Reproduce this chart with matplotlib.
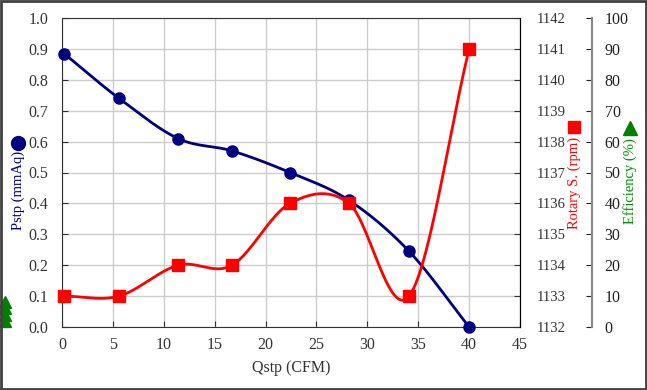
import numpy as np
import matplotlib.pyplot as plt
from matplotlib.lines import Line2D
from matplotlib.patches import Rectangle

plt.rcParams['font.family'] = ['Liberation Serif', 'DejaVu Serif']

# datos
qstp = [0.2, 5.6, 11.4, 16.7, 22.4, 28.2, 34.1, 40.0]
pstp = [0.885, 0.74, 0.61, 0.57, 0.50, 0.41, 0.245, 0.0]
rpm = [1133, 1133, 1134, 1134, 1136, 1136, 1133, 1141]
# puntos de eficiencia que quedan fuera del area (borde izquierdo)
eff_x = [-5.6, -5.6, -5.6, -5.6]
eff = [2, 4, 6, 8]


# suavizado tipo Excel (Catmull-Rom)
def suavizar(x, y, n=30):
    x = np.asarray(x, float)
    y = np.asarray(y, float)
    px = np.concatenate([[2 * x[0] - x[1]], x, [2 * x[-1] - x[-2]]])
    py = np.concatenate([[2 * y[0] - y[1]], y, [2 * y[-1] - y[-2]]])
    xs, ys = [], []
    t = np.linspace(0, 1, n)
    for i in range(1, len(px) - 2):
        p0, p1, p2, p3 = (np.array([px[j], py[j]]) for j in range(i - 1, i + 3))
        m1 = (p2 - p0) / 2
        m2 = (p3 - p1) / 2
        h00 = 2 * t**3 - 3 * t**2 + 1
        h10 = t**3 - 2 * t**2 + t
        h01 = -2 * t**3 + 3 * t**2
        h11 = t**3 - t**2
        seg = (np.outer(h00, p1) + np.outer(h10, m1) + np.outer(h01, p2) + np.outer(h11, m2))
        xs.extend(seg[:, 0])
        ys.extend(seg[:, 1])
    return np.array(xs), np.array(ys)


fig = plt.figure(figsize=(6.47, 3.90), dpi=100)
ax = fig.add_axes([62 / 647, 1 - 327 / 390, 458 / 647, 309 / 390])

ax.set_xlim(0, 45)
ax.set_ylim(0, 1.0)
ax.set_xticks(np.arange(0, 46, 5))
ax.set_yticks(np.arange(0, 1.01, 0.1))
ax.set_yticklabels([f'{v:.1f}' for v in np.arange(0, 1.01, 0.1)])
ax.grid(True, color='#cccccc', linewidth=1)
ax.set_axisbelow(True)
ax.tick_params(direction='in', labelsize=11.5, length=4, colors='#333333')
ax.tick_params(axis='y', pad=10)
ax.tick_params(axis='x', pad=7)
for s in ax.spines.values():
    s.set_color('#333333')
ax.set_xlabel('Qstp (CFM)', fontsize=11.5, color='#333333', labelpad=5)

ax2 = ax.twinx()
ax2.set_ylim(1132, 1142)
ax2.set_yticks(np.arange(1132, 1143, 1))
ax2.tick_params(direction='in', labelsize=10.5, length=4, colors='#333333', pad=12)

ax3 = ax.twinx()
ax3.set_ylim(0, 100)
ax3.set_yticks(np.arange(0, 101, 10))
ax3.spines['right'].set_position(('axes', 1 + 72 / 458))
ax3.spines['right'].set_color('#888888')
ax3.spines['right'].set_linewidth(1.5)
ax3.tick_params(direction='in', labelsize=11.5, length=4, colors='#333333', pad=9)
ax3.tick_params(axis='y', colors='#222222')
for nombre in ['top', 'bottom', 'left']:
    ax3.spines[nombre].set_visible(False)
    ax2.spines[nombre].set_visible(False)

# curvas
sx, sy = suavizar(qstp, pstp)
ax.plot(sx, sy, color='#000080', linewidth=2, zorder=3)
ax.plot(qstp, pstp, 'o', color='#000080', markersize=8, zorder=4, clip_on=False)

rx, ry = suavizar(qstp, rpm)
ax2.plot(rx, ry, color='#ff0000', linewidth=2, zorder=3)
ax2.plot(qstp, rpm, 's', color='#ff0000', markersize=8, zorder=4, clip_on=False)

ax3.plot(eff_x, eff, '^', color='#008000', markersize=8, clip_on=False)

# titulos de ejes con su simbolo
fig.text(18 / 647, 1 - 190 / 390, 'Pstp (mmAq)', rotation=90, color='#000080',
         fontsize=10.5, ha='center', va='center')
fig.add_artist(Line2D([18 / 647], [1 - 143 / 390], marker='o', color='#000080',
                      markersize=10, transform=fig.transFigure))
fig.text(574 / 647, 1 - 183 / 390, 'Rotary S. (rpm)', rotation=90, color='#ff0000',
         fontsize=10.5, ha='center', va='center')
fig.add_artist(Line2D([574 / 647], [1 - 127 / 390], marker='s', color='#ff0000',
                      markersize=9, transform=fig.transFigure))
fig.text(630 / 647, 1 - 181 / 390, 'Efficiency (%)', rotation=90, color='#009000',
         fontsize=10.5, ha='center', va='center')
fig.add_artist(Line2D([630 / 647], [1 - 128 / 390], marker='^', color='#008000',
                      markersize=10, transform=fig.transFigure))

# marco exterior
fig.add_artist(Rectangle((0.002, 0.003), 0.996, 0.994, transform=fig.transFigure,
                         fill=False, edgecolor='#404040', linewidth=2))

fig.savefig('out.png', dpi=100)
